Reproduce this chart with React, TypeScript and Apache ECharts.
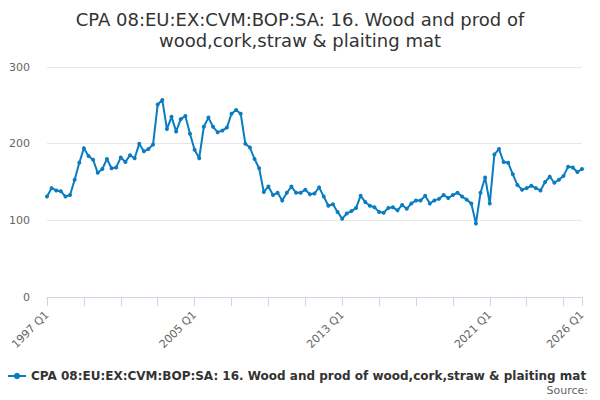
import React, { useEffect, useRef } from "react";
import * as echarts from "echarts";

const TITLE = "CPA 08:EU:EX:CVM:BOP:SA: 16. Wood and prod of\nwood,cork,straw & plaiting mat";
const SERIES_NAME = "CPA 08:EU:EX:CVM:BOP:SA: 16. Wood and prod of wood,cork,straw & plaiting mat";
const START_YEAR = 1997;
const END_YEAR = 2026;

const categories: string[] = [];
for (let y = START_YEAR; y <= END_YEAR; y++) {
  for (let q = 1; q <= 4; q++) {
    if (y === END_YEAR && q > 1) break;
    categories.push(`${y} Q${q}`);
  }
}

const values = [
  131, 142, 139, 138, 131, 133, 153, 175, 194, 184, 179, 162, 167, 180, 168, 169,
  182, 176, 185, 181, 200, 190, 193, 199, 251, 257, 219, 235, 216, 232, 236, 213,
  192, 181, 222, 234, 222, 215, 217, 221, 239, 244, 239, 200, 195, 180, 168, 137,
  144, 133, 136, 126, 136, 144, 136, 136, 140, 134, 135, 143, 131, 119, 121, 111,
  102, 109, 112, 116, 132, 124, 119, 117, 111, 110, 116, 117, 113, 120, 115, 122,
  126, 126, 132, 122, 126, 128, 133, 129, 133, 136, 131, 127, 122, 96, 136, 156,
  122, 186, 193, 176, 175, 160, 146, 140, 142, 145, 142, 139, 150, 157, 149, 153,
  158, 170, 169, 163, 167,
];

const yTicks = [0, 100, 200, 300];
const FONT = "DejaVu Sans";

export default function App() {
  const ref = useRef<HTMLDivElement>(null);
  useEffect(() => {
    if (!ref.current) return;
    const chart = echarts.init(ref.current, null, { renderer: "svg" });
    const last = categories.length - 1;
    chart.setOption({
      animation: false,
      title: {
        text: TITLE,
        left: "center",
        top: 4,
        textStyle: { fontFamily: FONT, fontSize: 18, fontWeight: "normal", color: "#333", lineHeight: 21 },
      },
      grid: { left: 47, right: 18, top: 67, bottom: 103, containLabel: false },
      xAxis: {
        type: "category",
        data: categories,
        boundaryGap: false,
        axisLine: { lineStyle: { color: "#ccd6eb" } },
        axisTick: {
          show: true,
          length: 9,
          interval: (i: number) => i % 8 === 0 || i === last,
          lineStyle: { color: "#ccd6eb" },
        },
        axisLabel: {
          interval: (i: number) => i % 32 === 0 || i === last,
          rotate: 45,
          color: "#666",
          fontFamily: FONT,
          fontSize: 11,
          margin: 16,
        },
        splitLine: { show: false },
      },
      yAxis: {
        type: "value",
        min: yTicks[0],
        max: yTicks[yTicks.length - 1],
        interval: 100,
        axisLine: { show: false },
        axisTick: { show: false },
        axisLabel: { color: "#666", fontFamily: FONT, fontSize: 11, margin: 17 },
        splitLine: { lineStyle: { color: "#e6e6e6" } },
      },
      legend: {
        left: 2,
        top: 365,
        itemWidth: 18,
        itemHeight: 8,
        itemGap: 5,
        textStyle: { fontFamily: FONT, fontSize: 12, fontWeight: "bold", color: "#333" },
        data: [SERIES_NAME],
      },
      graphic: [
        {
          type: "text",
          right: 12,
          top: 385,
          style: { text: "Source:", fontFamily: FONT, fontSize: 11, fill: "#666" },
        },
      ],
      series: [
        {
          name: SERIES_NAME,
          type: "line",
          data: values,
          symbol: "circle",
          symbolSize: 4,
          showSymbol: true,
          showAllSymbol: true,
          lineStyle: { width: 2, color: "#0a7cc1" },
          itemStyle: { color: "#0a7cc1" },
        },
      ],
    });
    return () => chart.dispose();
  }, []);
  return <div ref={ref} style={{ width: 600, height: 400, position: "absolute", left: 0, top: 0 }} />;
}
